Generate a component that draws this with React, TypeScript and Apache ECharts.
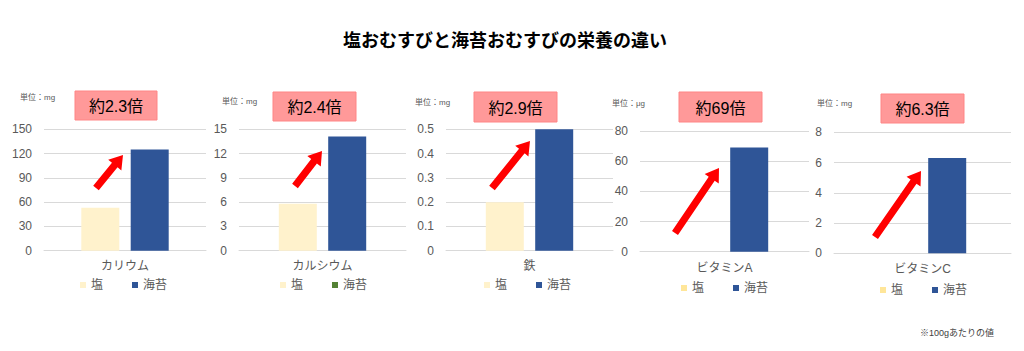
import React, { useEffect, useRef } from "react";
import * as echarts from "echarts";

// ---- data ----
const title = "塩おむすびと海苔おむすびの栄養の違い";
const footnote = "※100gあたりの値";
const seriesNames = ["塩", "海苔"];
const categories = ["カリウム", "カルシウム", "鉄", "ビタミンA", "ビタミンC"];
const units = ["mg", "mg", "mg", "μg", "mg"];
const shioValues = [53, 5.8, 0.2, 0, 0];
const noriValues = [125, 14.1, 0.5, 69, 6.3];
const axisMax = [150, 15, 0.5, 80, 8];
const axisInterval = [30, 3, 0.1, 20, 2];
const ratioLabels = ["約2.3倍", "約2.4倍", "約2.9倍", "約69倍", "約6.3倍"];

// ---- layout (positions / styles) ----
const grids = [
  { left: 44, width: 162, top: 129.3, height: 121.4 },
  { left: 239, width: 167, top: 129.3, height: 121.4 },
  { left: 446, width: 167, top: 129.3, height: 121.4 },
  { left: 640, width: 169, top: 131, height: 120.7 },
  { left: 834, width: 177, top: 132.3, height: 121 },
];
const legendPos = [
  { left: 75, top: 274 },
  { left: 275, top: 274 },
  { left: 479, top: 274 },
  { left: 676, top: 277 },
  { left: 875, top: 279 },
];
const unitPos = [
  [20, 97],
  [222, 101],
  [415, 102],
  [612, 103],
  [817, 103],
];
const badgeRects = [
  [75, 91, 82, 29],
  [273, 92, 83, 29],
  [474, 92, 83, 30],
  [679, 92, 83, 30],
  [881, 94, 83, 29],
];
const arrows = [
  [96, 188, 123, 155],
  [295, 186, 322, 151],
  [492, 188, 530, 141],
  [675, 233, 719, 168],
  [875, 237, 921, 171],
];
const shioColor = "#FFF2CC";
const noriColor = "#2F5597";
const shioLegendColors = ["#FFF2CC", "#FFF2CC", "#FFF2CC", "#FFE699", "#FFE699"];
const noriLegendColors = ["#2F5597", "#548235", "#2F5597", "#2F5597", "#2F5597"];
const FONT = "'Liberation Sans', 'Noto Sans CJK JP', sans-serif";

function arrowPoints(x1: number, y1: number, x2: number, y2: number) {
  const dx = x2 - x1;
  const dy = y2 - y1;
  const len = Math.sqrt(dx * dx + dy * dy);
  const ux = dx / len;
  const uy = dy / len;
  const px = -uy;
  const py = ux;
  const sw = 3.6;
  const hw = 8.5;
  const hl = 13;
  const bx = x2 - ux * hl;
  const by = y2 - uy * hl;
  return [
    [x1 + px * sw, y1 + py * sw],
    [bx + px * sw, by + py * sw],
    [bx + px * hw, by + py * hw],
    [x2, y2],
    [bx - px * hw, by - py * hw],
    [bx - px * sw, by - py * sw],
    [x1 - px * sw, y1 - py * sw],
  ];
}

export default function App() {
  const ref = useRef<HTMLDivElement>(null);
  useEffect(() => {
    document.body.style.margin = "0";
    if (!ref.current) return;
    const chart = echarts.init(ref.current, null, { renderer: "svg" });

    const graphics: any[] = [];
    graphics.push({
      type: "text",
      x: 505,
      y: 41,
      style: {
        text: title,
        fontSize: 18,
        fontWeight: "bold",
        fontFamily: FONT,
        fill: "#000",
        align: "center",
        verticalAlign: "middle",
      },
    });
    graphics.push({
      type: "text",
      x: 957,
      y: 333,
      style: {
        text: footnote,
        fontSize: 9,
        fontFamily: FONT,
        fill: "#404040",
        align: "center",
        verticalAlign: "middle",
      },
    });
    categories.forEach((_, i) => {
      graphics.push({
        type: "text",
        x: unitPos[i][0],
        y: unitPos[i][1],
        style: {
          text: "単位：" + units[i],
          fontSize: 8,
          fontFamily: FONT,
          fill: "#595959",
          align: "left",
          verticalAlign: "middle",
        },
      });
      const [bx, by, bw, bh] = badgeRects[i];
      graphics.push({
        type: "rect",
        shape: { x: bx, y: by, width: bw, height: bh },
        style: { fill: "#FF9999", stroke: "#FF8585", lineWidth: 1 },
      });
      graphics.push({
        type: "text",
        x: bx + bw / 2,
        y: by + bh / 2 + 1,
        style: {
          text: ratioLabels[i],
          fontSize: 16,
          fontFamily: FONT,
          fill: "#000",
          align: "center",
          verticalAlign: "middle",
        },
      });
      const a = arrows[i];
      graphics.push({
        type: "polygon",
        shape: { points: arrowPoints(a[0], a[1], a[2], a[3]) },
        style: { fill: "#FF0000" },
        z: 100,
      });
    });

    const option: any = {
      animation: false,
      backgroundColor: "#ffffff",
      grid: grids.map((g) => ({ ...g, containLabel: false })),
      xAxis: categories.map((c, i) => ({
        type: "category",
        gridIndex: i,
        data: [c],
        axisLine: { lineStyle: { color: "#D9D9D9" } },
        axisTick: { show: false },
        axisLabel: {
          color: "#595959",
          fontSize: 12,
          fontFamily: FONT,
          margin: i < 3 ? 9 : 10,
        },
      })),
      yAxis: categories.map((_, i) => ({
        type: "value",
        gridIndex: i,
        min: 0,
        max: axisMax[i],
        interval: axisInterval[i],
        axisLine: { show: false },
        axisTick: { show: false },
        splitLine: { lineStyle: { color: "#D9D9D9", width: 1 } },
        axisLabel: {
          color: "#595959",
          fontSize: 12,
          fontFamily: FONT,
          margin: 12,
        },
      })),
      legend: categories.map((_, i) => ({
        left: legendPos[i].left,
        top: legendPos[i].top,
        icon: "rect",
        itemWidth: 6,
        itemHeight: 6,
        itemGap: 29,
        selectedMode: false,
        textStyle: { color: "#595959", fontSize: 12, fontFamily: FONT },
        data: [
          { name: seriesNames[0], itemStyle: { color: shioLegendColors[i] } },
          { name: seriesNames[1], itemStyle: { color: noriLegendColors[i] } },
        ],
      })),
      series: categories.flatMap((_, i) => [
        {
          type: "bar",
          name: seriesNames[0],
          xAxisIndex: i,
          yAxisIndex: i,
          data: [shioValues[i]],
          barWidth: 38,
          barGap: "30%",
          itemStyle: { color: shioColor },
        },
        {
          type: "bar",
          name: seriesNames[1],
          xAxisIndex: i,
          yAxisIndex: i,
          data: [noriValues[i]],
          barWidth: 38,
          barGap: "30%",
          itemStyle: { color: noriColor },
        },
      ]),
      graphic: graphics,
    };
    chart.setOption(option);
    return () => chart.dispose();
  }, []);
  return <div ref={ref} style={{ width: 1024, height: 351 }} />;
}
